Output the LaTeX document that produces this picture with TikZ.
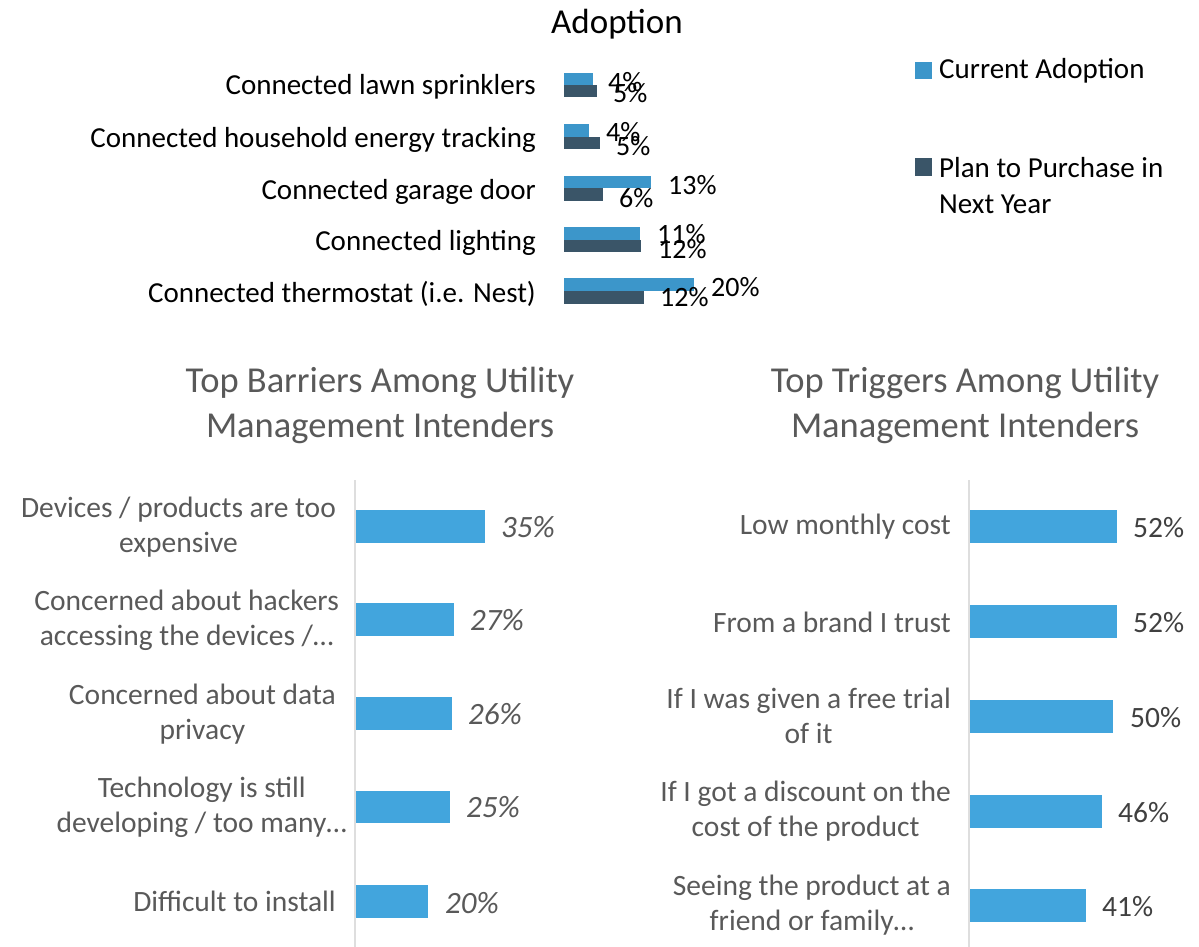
\documentclass[tikz,border=0pt]{standalone}
\usepackage{fontspec}
\setmainfont{Carlito}
\usetikzlibrary{positioning}
\definecolor{curblue}{HTML}{3C96CA}
\definecolor{plandark}{HTML}{3A5568}
\definecolor{barblue}{HTML}{42A5DD}
\definecolor{txtgray}{HTML}{595959}
\definecolor{valgray}{HTML}{404040}
\definecolor{axisgray}{HTML}{DEDEDE}
\tikzset{
	curbar/.style={fill=curblue},          % current adoption
	planbar/.style={fill=plandark},        % plan to purchase
	hbar/.style={fill=barblue},            % lower charts
	toplabel/.style={anchor=base east, inner sep=0pt, font=\fontsize{29}{34}\selectfont},
	topval/.style={anchor=base west, inner sep=0pt, font=\fontsize{28}{34}\selectfont},
	catlabel/.style={anchor=east, align=center, inner sep=0pt, text=txtgray,
		font=\fontsize{29.5}{35}\selectfont},
	bigtitle/.style={align=center, inner sep=0pt, text=txtgray,
		font=\fontsize{36.5}{45}\selectfont},
	barval/.style={anchor=west, inner sep=0pt, font=\fontsize{29.5}{34}\selectfont}
}
\begin{document}
\begin{tikzpicture}[x=1pt,y=-1pt]
		\useasboundingbox (0,0) rectangle (1199,947);
		
		% ---- top chart: adoption ----
		\node[anchor=base, inner sep=0pt, font=\fontsize{35}{40}\selectfont] (adopt) at (617,34) {Adoption};
		
		\fill[curbar]  (564,73) rectangle (593,85);
		\fill[planbar] (564,85) rectangle (597,97);
		\fill[curbar]  (564,124) rectangle (589,137);
		\fill[planbar] (564,137) rectangle (600,149);
		\fill[curbar]  (564,176) rectangle (651,188);
		\fill[planbar] (564,188) rectangle (603,201);
		\fill[curbar]  (564,227) rectangle (640,240);
		\fill[planbar] (564,240) rectangle (641,252);
		\fill[curbar]  (564,278) rectangle (694,291);
		\fill[planbar] (564,291) rectangle (644,304);
		
		\node[toplabel] (lawn)     at (536,95)  {Connected lawn sprinklers};
		\node[toplabel] (energy)   at (536,147) {Connected household energy tracking};
		\node[toplabel] (garage)   at (536,199) {Connected garage door};
		\node[toplabel] (lighting) at (536,250) {Connected lighting};
		\node[toplabel] (thermo)   at (536,302) {Connected thermostat (i.e. Nest)};
		
		% values (they overlap, as in the chart)
		\node[topval] (lawnc)   at (608,92)  {4\%};
		\node[topval] (lawnp)   at (613,103) {5\%};
		\node[topval] (energyc) at (606,142) {4\%};
		\node[topval] (energyp) at (616,156) {5\%};
		\node[topval] (garagec) at (668,194) {13\%};
		\node[topval] (garagep) at (619,207) {6\%};
		\node[topval] (lightc)  at (657,243) {11\%};
		\node[topval] (lightp)  at (658,258) {12\%};
		\node[topval] (thermoc) at (711,296) {20\%};
		\node[topval] (thermop) at (660,306) {12\%};
		
		% legend
		\fill[curbar]  (915,62) rectangle (932,79);
		\node[topval, font=\fontsize{29}{36}\selectfont] (legcur) at (939,79) {Current Adoption};
		\fill[planbar] (915,158) rectangle (932,176);
		\node[topval, align=left, anchor=north west, font=\fontsize{29}{36}\selectfont]
		(legplan) at (939,157) {Plan to Purchase in\\Next Year};
		
		% ---- lower left: barriers ----
		\node[bigtitle] (barriers) at (380,405) {Top Barriers Among Utility\\Management Intenders};
		\draw[axisgray, line width=1.5pt] (355,480) -- (355,947);
		
		\fill[hbar] (356,510) rectangle (485,543);
		\fill[hbar] (356,603) rectangle (454,636);
		\fill[hbar] (356,697) rectangle (452,730);
		\fill[hbar] (356,791) rectangle (450,823);
		\fill[hbar] (356,885) rectangle (428,918);
		
		\node[catlabel] (expensive) at (336,527) {Devices / products are too\\expensive};
		\node[catlabel] (hackers)   at (339,620) {Concerned about hackers\\accessing the devices /…};
		\node[catlabel] (privacy)   at (336,714) {Concerned about data\\privacy};
		\node[catlabel] (develop)   at (347,807) {Technology is still\\developing / too many…};
		\node[catlabel] (install)   at (336,901) {Difficult to install};
		
		\node[barval, text=txtgray, font=\fontsize{31}{34}\selectfont\itshape] (b1) at (501,527) {35\%};
		\node[barval, text=txtgray, font=\fontsize{31}{34}\selectfont\itshape] (b2) at (470,620) {27\%};
		\node[barval, text=txtgray, font=\fontsize{31}{34}\selectfont\itshape] (b3) at (468,714) {26\%};
		\node[barval, text=txtgray, font=\fontsize{31}{34}\selectfont\itshape] (b4) at (466,807) {25\%};
		\node[barval, text=txtgray, font=\fontsize{31}{34}\selectfont\itshape] (b5) at (445,903) {20\%};
		
		% ---- lower right: triggers ----
		\node[bigtitle] (triggers) at (965,405) {Top Triggers Among Utility\\Management Intenders};
		\draw[axisgray, line width=1.5pt] (969,480) -- (969,947);
		
		\fill[hbar] (970,510) rectangle (1117,543);
		\fill[hbar] (970,605) rectangle (1117,638);
		\fill[hbar] (970,700) rectangle (1113,733);
		\fill[hbar] (970,795) rectangle (1102,828);
		\fill[hbar] (970,889) rectangle (1086,922);
		
		\node[catlabel] (cost)     at (951,527) {Low monthly cost};
		\node[catlabel] (brand)    at (951,622) {From a brand I trust};
		\node[catlabel] (trial)    at (951,716) {If I was given a free trial\\of it};
		\node[catlabel] (discount) at (951,811) {If I got a discount on the\\cost of the product};
		\node[catlabel] (friend)   at (951,905) {Seeing the product at a\\friend or family…};
		
		\node[barval, text=valgray] (t1) at (1133,528) {52\%};
		\node[barval, text=valgray] (t2) at (1133,623) {52\%};
		\node[barval, text=valgray] (t3) at (1130,718) {50\%};
		\node[barval, text=valgray] (t4) at (1118,813) {46\%};
		\node[barval, text=valgray] (t5) at (1102,907) {41\%};
		
	\end{tikzpicture}
\end{document}
